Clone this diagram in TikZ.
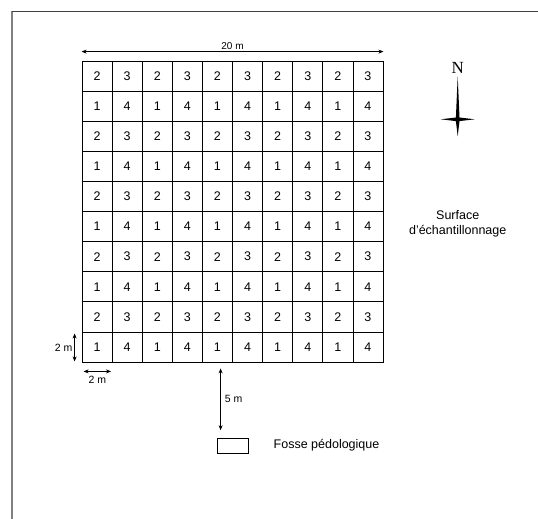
\documentclass[tikz,border=0pt]{standalone}
\usepackage{fontspec}
\setmainfont{Liberation Sans}
\newfontfamily\northfont{Liberation Serif}
\usetikzlibrary{arrows.meta, calc, positioning}

\tikzset{
  cell/.style={draw, line width=0.8pt, minimum size=30.1pt, inner sep=0pt,
               font=\fontsize{12.5}{14}\selectfont},
  dimarrow/.style={{Stealth[length=5pt,width=4pt]}-{Stealth[length=5pt,width=4pt]},
                   line width=0.6pt},
  dimlabel/.style={font=\fontsize{10.5}{12}\selectfont, inner sep=1pt},
}

\begin{document}
\begin{tikzpicture}[x=1pt, y=1pt]
  \useasboundingbox (0,0) rectangle (538,-519);

  % Frame
  \draw[gray, line width=1.6pt] (12,-519) -- (12,-11);
  \draw[black!75, line width=0.8pt] (12,-11) -- (538,-11);

  % Sampling grid
  \foreach \r in {0,...,9} {
    \foreach \c in {0,...,9} {
      \pgfmathtruncatemacro{\v}{2-mod(\r,2)+mod(\c,2)*(1+2*mod(\r,2))}
      \node[cell] (c-\r-\c) at ({82+30.1*(\c+0.5)}, {-61-30.1*(\r+0.5)}) {\v};
    }
  }

  % Dimensions
  \coordinate (w1) at ($(c-0-0.north west)+(0,9)$);
  \coordinate (w2) at ($(c-0-9.north east)+(0,9)$);
  \draw[dimarrow] (w1) -- (w2)
    node[midway, above=1pt, dimlabel, font=\fontsize{10}{12}\selectfont] {20 m};

  \coordinate (h1) at ($(c-9-0.north west)+(-7,-2)$);
  \coordinate (h2) at ($(c-9-0.south west)+(-7,1)$);
  \draw[dimarrow] (h1) -- (h2) node[midway, left=1pt, dimlabel] {2 m};

  \coordinate (b1) at ($(c-9-0.south west)+(2,-9)$);
  \coordinate (b2) at ($(c-9-0.south east)+(-1.5,-9)$);
  \draw[dimarrow] (b1) -- (b2) node[midway, below=3pt, dimlabel] {2 m};

  % Soil pit
  \node[draw, line width=0.8pt, minimum width=30.4pt, minimum height=15pt, inner sep=0pt]
    (fosse) at ($(c-9-4.south east)+(0,-83.2)$) {};
  \node[right=25pt of fosse, inner sep=0pt, font=\fontsize{12.5}{14}\selectfont]
    (fosselabel) {Fosse pédologique};

  \coordinate (p1) at ($(c-9-4.south west)+(18.6,-6)$);
  \coordinate (p2) at ($(p1 |- fosse.north)+(0,7.5)$);
  \draw[dimarrow] (p1) -- (p2) node[midway, right=3pt, dimlabel] {5 m};

  % Labels
  \node[align=center, font=\fontsize{12.5}{15}\selectfont] (surface)
    at (457.7,-223.5) {Surface\\d'échantillonnage};

  % North arrow
  \fill[shift={(457.7,-119.3)}] (0,43) -- (1.8,1.8) -- (17,0) -- (1.8,-1.8)
    -- (0,-17) -- (-1.8,-1.8) -- (-17,0) -- (-1.8,1.8) -- cycle;
  \node[anchor=south, inner sep=0pt, font=\northfont\fontsize{17}{17}\selectfont]
    (north) at (457.7,-74) {N};
\end{tikzpicture}
\end{document}
